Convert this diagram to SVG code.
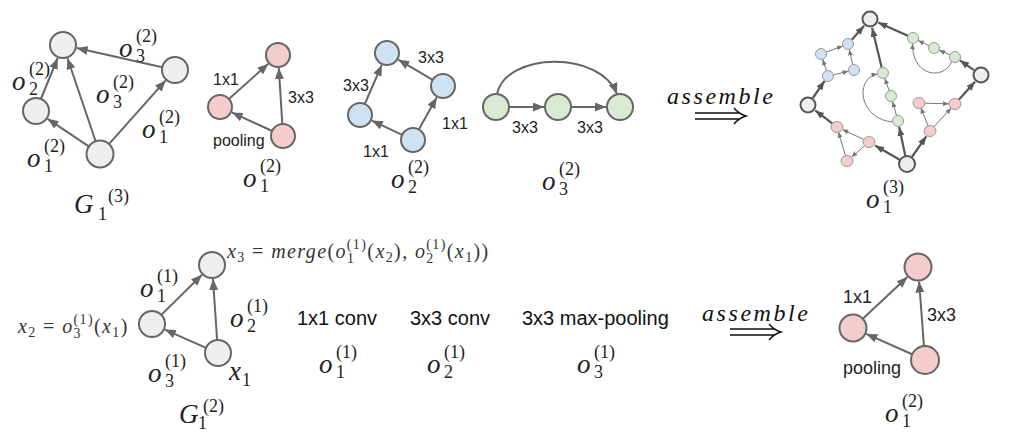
<svg xmlns="http://www.w3.org/2000/svg" width="1016" height="447" viewBox="0 0 1016 447">
<defs>
<style>
.e{stroke:#666;stroke-width:2;fill:none;marker-end:url(#ah)}
.et{stroke:#777;stroke-width:1;fill:none;marker-end:url(#as)}
.eb{stroke:#555;stroke-width:2.2;fill:none;marker-end:url(#ab)}
.ng{fill:#eeeeee;stroke:#666;stroke-width:2}
.np{fill:#f4cccc;stroke:#666;stroke-width:2}
.nb{fill:#cfe2f3;stroke:#666;stroke-width:2}
.nG{fill:#d9ead3;stroke:#666;stroke-width:2}
.sp{fill:#f4cccc;stroke:#999;stroke-width:1}
.sb{fill:#cfe2f3;stroke:#999;stroke-width:1}
.sG{fill:#d9ead3;stroke:#999;stroke-width:1}
.sg{fill:#eeeeee;stroke:#555;stroke-width:2}
.lbl{font-family:"Liberation Sans",Arial,sans-serif;font-size:16px;fill:#222}
.lbb{font-family:"Liberation Sans",Arial,sans-serif;font-size:18px;fill:#222}
.op{font-family:"Liberation Sans",Arial,sans-serif;font-size:20px;fill:#111}
.mi{font-family:"Liberation Serif","DejaVu Serif",serif;font-style:italic;font-size:27px;fill:#222}
.sc{font-family:"Liberation Serif","DejaVu Serif",serif;font-size:18px;fill:#222}
.an{font-family:"Liberation Serif","DejaVu Serif",serif;font-size:20px;letter-spacing:1.4px;fill:#333}
.an .i{font-style:italic}
.as{font-family:"Liberation Serif","DejaVu Serif",serif;font-style:italic;font-size:24px;fill:#111}
.dar{stroke:#111;stroke-width:1.4;fill:none}
</style>
<marker id="ah" markerUnits="userSpaceOnUse" markerWidth="11" markerHeight="9" refX="11" refY="4.5" orient="auto"><path d="M0,0 L11,4.5 L0,9 z" fill="#666"/></marker>
<marker id="as" markerUnits="userSpaceOnUse" markerWidth="6" markerHeight="5" refX="6" refY="2.5" orient="auto"><path d="M0,0 L6,2.5 L0,5 z" fill="#777"/></marker>
<marker id="ab" markerUnits="userSpaceOnUse" markerWidth="9" markerHeight="7" refX="9" refY="3.5" orient="auto"><path d="M0,0 L9,3.5 L0,7 z" fill="#555"/></marker>
</defs>
<rect width="1016" height="447" fill="#fff"/>

<g id="connectors">
<line class="e" x1="40.9" y1="99" x2="57.7" y2="58"/>
<line class="e" x1="89.2" y1="146.7" x2="47.6" y2="118.8"/>
<line class="e" x1="95.8" y1="141.7" x2="67.5" y2="58.3"/>
<line class="e" x1="108.7" y1="144.3" x2="165.7" y2="80.4"/>
<line class="e" x1="162.3" y1="67.2" x2="76.7" y2="48.1"/>
<line class="e" x1="228.9" y1="99" x2="268.3" y2="63.7"/>
<line class="e" x1="272.1" y1="131" x2="231.8" y2="112.4"/>
<line class="e" x1="282.3" y1="124" x2="278.8" y2="68"/>
<line class="e" x1="364.8" y1="104" x2="381.8" y2="64.9"/>
<line class="e" x1="402.2" y1="134.9" x2="371.8" y2="120.6"/>
<line class="e" x1="418.8" y1="129.5" x2="436.7" y2="97.4"/>
<line class="e" x1="432.7" y1="79.9" x2="398.2" y2="59.6"/>
<line class="e" x1="509" y1="107" x2="544" y2="107"/>
<line class="e" x1="571" y1="107" x2="606" y2="107"/>
<path class="e" d="M497,94 C506,52 600,50 617,94"/>
<line class="eb" x1="812.8" y1="98" x2="824.6" y2="81"/>
<line class="eb" x1="851.6" y1="39.9" x2="864.1" y2="25.8"/>
<line class="eb" x1="905.3" y1="155.7" x2="899.2" y2="126.9"/>
<line class="eb" x1="881.8" y1="68.1" x2="872.1" y2="27.8"/>
<line class="eb" x1="974" y1="70.2" x2="959.9" y2="60.4"/>
<line class="eb" x1="908.4" y1="36" x2="878.2" y2="22.6"/>
<line class="eb" x1="899.6" y1="159.7" x2="875.1" y2="145.5"/>
<line class="eb" x1="832.2" y1="123.4" x2="815.2" y2="110.4"/>
<line class="eb" x1="911.9" y1="157" x2="926.3" y2="136.3"/>
<line class="eb" x1="959" y1="99.5" x2="975" y2="81.7"/>
<line class="et" x1="826.5" y1="71.2" x2="822.7" y2="59.2"/>
<line class="et" x1="832.9" y1="74.9" x2="848.6" y2="71.2"/>
<line class="et" x1="825.7" y1="52.3" x2="842.8" y2="45.9"/>
<line class="et" x1="852.9" y1="65.1" x2="849.2" y2="49.4"/>
<line class="et" x1="896.7" y1="116.2" x2="892.5" y2="101.3"/>
<line class="et" x1="889.4" y1="91.3" x2="884.8" y2="78.2"/>
<path class="et" d="M892,122 C858,118 855,78 877.5,74"/>
<line class="et" x1="950.4" y1="55" x2="939.1" y2="50.2"/>
<line class="et" x1="929.5" y1="45.9" x2="918" y2="40.4"/>
<path class="et" d="M952,61 C945,80 912,78 912.5,43.5"/>
<line class="et" x1="863.6" y1="139.4" x2="842.4" y2="129.5"/>
<line class="et" x1="864.5" y1="145.9" x2="851.5" y2="157.1"/>
<line class="et" x1="845.6" y1="156.2" x2="838.4" y2="131.8"/>
<line class="et" x1="928.2" y1="126.3" x2="920.8" y2="107.7"/>
<line class="et" x1="933.7" y1="127" x2="951.3" y2="108"/>
<line class="et" x1="925" y1="103.2" x2="949" y2="103.8"/>
<line class="e" x1="161.3" y1="314.9" x2="202" y2="274.8"/>
<line class="e" x1="206.1" y1="347.8" x2="164.8" y2="329.6"/>
<line class="e" x1="217.1" y1="340" x2="213" y2="279"/>
<line class="e" x1="862.8" y1="318.8" x2="907.4" y2="276.9"/>
<line class="e" x1="912.7" y1="354.5" x2="866.3" y2="333.9"/>
<line class="e" x1="924" y1="346.5" x2="919.1" y2="281.5"/>
</g>

<g id="G13">
<circle class="ng" cx="63" cy="45" r="13"/>
<circle class="ng" cx="36" cy="111" r="13"/>
<circle class="ng" cx="100" cy="154" r="13.5"/>
<circle class="ng" cx="175" cy="70" r="13"/>
<text class="mi" x="119" y="57">o</text><text class="sc" x="136" y="42">(2)</text><text class="sc" x="136" y="62">3</text>
<text class="mi" x="12" y="90">o</text><text class="sc" x="29" y="75">(2)</text><text class="sc" x="29" y="95">2</text>
<text class="mi" x="96" y="103">o</text><text class="sc" x="113" y="88">(2)</text><text class="sc" x="113" y="108">3</text>
<text class="mi" x="142" y="138">o</text><text class="sc" x="159" y="123">(2)</text><text class="sc" x="159" y="143">1</text>
<text class="mi" x="27" y="167">o</text><text class="sc" x="44" y="152">(2)</text><text class="sc" x="44" y="172">1</text>
<text class="mi" x="74" y="213">G</text><text class="sc" x="108" y="202">(3)</text><text class="sc" x="98" y="220">1</text>
</g>

<g id="pink-o1">
<circle class="np" cx="278" cy="55" r="12"/>
<circle class="np" cx="220" cy="107" r="12"/>
<circle class="np" cx="283" cy="136" r="12"/>
<text class="lbl" x="213" y="85">1x1</text>
<text class="lbl" x="288" y="103">3x3</text>
<text class="lbl" x="213" y="146">pooling</text>
<text class="mi" x="243" y="187">o</text><text class="sc" x="260" y="172">(2)</text><text class="sc" x="260" y="192">1</text>
</g>

<g id="blue-o2">
<circle class="nb" cx="387" cy="53" r="12"/>
<circle class="nb" cx="360" cy="115" r="12"/>
<circle class="nb" cx="443" cy="86" r="12"/>
<circle class="nb" cx="413" cy="140" r="12"/>
<text class="lbl" x="418" y="63">3x3</text>
<text class="lbl" x="343" y="91">3x3</text>
<text class="lbl" x="442" y="129">1x1</text>
<text class="lbl" x="363" y="157">1x1</text>
<text class="mi" x="391" y="188">o</text><text class="sc" x="408" y="173">(2)</text><text class="sc" x="408" y="193">2</text>
</g>

<g id="green-o3">
<circle class="nG" cx="496" cy="107" r="13"/>
<circle class="nG" cx="558" cy="107" r="13"/>
<circle class="nG" cx="620" cy="107" r="13"/>
<text class="lbl" x="512" y="133">3x3</text>
<text class="lbl" x="577" y="133">3x3</text>
<text class="mi" x="542" y="190">o</text><text class="sc" x="559" y="175">(2)</text><text class="sc" x="559" y="195">3</text>
</g>

<g id="assemble-top">
<text class="as" x="667" y="104" textLength="106" lengthAdjust="spacing">assemble</text>
<path class="dar" d="M695,113 L740,113 M695,119 L740,119 M734,108 Q739,114 746,116 Q739,118 734,124"/>
</g>

<g id="assembled-o13">
<circle class="sg" cx="870" cy="19" r="7.5"/>
<circle class="sg" cx="808" cy="105" r="7.5"/>
<circle class="sg" cx="981" cy="75" r="7.5"/>
<circle class="sg" cx="907" cy="164" r="8"/>
<circle class="sb" cx="828" cy="76" r="5.5"/>
<circle class="sb" cx="821" cy="54" r="5.5"/>
<circle class="sb" cx="854" cy="70" r="5.5"/>
<circle class="sb" cx="848" cy="44" r="5.5"/>
<circle class="sG" cx="898" cy="121" r="5.5"/>
<circle class="sG" cx="891" cy="96" r="5.5"/>
<circle class="sG" cx="883" cy="73" r="5.5"/>
<circle class="sG" cx="955" cy="57" r="5.5"/>
<circle class="sG" cx="934" cy="48" r="5.5"/>
<circle class="sG" cx="913" cy="38" r="5.5"/>
<ellipse class="sp" cx="869" cy="142" rx="6" ry="5.5"/>
<ellipse class="sp" cx="847" cy="161" rx="6" ry="5.5"/>
<ellipse class="sp" cx="837" cy="127" rx="6" ry="5.5"/>
<ellipse class="sp" cx="930" cy="131" rx="6" ry="5.5"/>
<ellipse class="sp" cx="919" cy="103" rx="6" ry="5.5"/>
<ellipse class="sp" cx="955" cy="104" rx="6" ry="5.5"/>
<text class="mi" x="866" y="208">o</text><text class="sc" x="883" y="193">(3)</text><text class="sc" x="883" y="213">1</text>
</g>

<g id="G12">
<circle class="ng" cx="212" cy="265" r="13"/>
<circle class="ng" cx="152" cy="324" r="13"/>
<circle class="ng" cx="218" cy="353" r="13"/>
<text class="mi" x="140" y="297">o</text><text class="sc" x="157" y="282">(1)</text><text class="sc" x="157" y="302">1</text>
<text class="mi" x="230" y="327">o</text><text class="sc" x="247" y="312">(1)</text><text class="sc" x="247" y="332">2</text>
<text class="mi" x="148" y="382">o</text><text class="sc" x="165" y="367">(1)</text><text class="sc" x="165" y="387">3</text>
<text class="mi" x="229" y="380">x</text><text class="sc" x="242" y="386">1</text>
<text class="mi" x="179" y="423">G</text><text class="sc" x="203" y="412">(2)</text><text class="sc" x="198" y="429">1</text>
<text class="an" x="18" y="333"><tspan class="i">x</tspan><tspan font-size="14" dy="4">2</tspan><tspan dy="-4"> = </tspan><tspan class="i">o</tspan><tspan font-size="14" dy="5">3</tspan><tspan font-size="14" dx="-8.5" dy="-14">(1)</tspan><tspan dy="9">(</tspan><tspan class="i">x</tspan><tspan font-size="14" dy="4">1</tspan><tspan dy="-4">)</tspan></text>
<text class="an" x="227" y="258"><tspan class="i">x</tspan><tspan font-size="14" dy="4">3</tspan><tspan dy="-4"> = </tspan><tspan class="i">merge</tspan>(<tspan class="i">o</tspan><tspan font-size="14" dy="5">1</tspan><tspan font-size="14" dx="-8.5" dy="-14">(1)</tspan><tspan dy="9">(</tspan><tspan class="i">x</tspan><tspan font-size="14" dy="4">2</tspan><tspan dy="-4">), </tspan><tspan class="i">o</tspan><tspan font-size="14" dy="5">2</tspan><tspan font-size="14" dx="-8.5" dy="-14">(1)</tspan><tspan dy="9">(</tspan><tspan class="i">x</tspan><tspan font-size="14" dy="4">1</tspan><tspan dy="-4">))</tspan></text>
</g>

<g id="ops">
<text class="op" x="297" y="325">1x1 conv</text>
<text class="op" x="410" y="325">3x3 conv</text>
<text class="op" x="522" y="325">3x3 max-pooling</text>
<text class="mi" x="319" y="373">o</text><text class="sc" x="336" y="358">(1)</text><text class="sc" x="336" y="378">1</text>
<text class="mi" x="427" y="373">o</text><text class="sc" x="444" y="358">(1)</text><text class="sc" x="444" y="378">2</text>
<text class="mi" x="577" y="373">o</text><text class="sc" x="594" y="358">(1)</text><text class="sc" x="594" y="378">3</text>
</g>

<g id="assemble-bottom">
<text class="as" x="702" y="321" textLength="106" lengthAdjust="spacing">assemble</text>
<path class="dar" d="M730,329 L775,329 M730,335 L775,335 M769,324 Q774,330 781,332 Q774,334 769,340"/>
</g>

<g id="pink-o1-bottom">
<circle class="np" cx="918" cy="267" r="13.5"/>
<circle class="np" cx="853" cy="328" r="13.5"/>
<circle class="np" cx="925" cy="360" r="14"/>
<text class="lbb" x="843" y="303">1x1</text>
<text class="lbb" x="927" y="321">3x3</text>
<text class="lbb" x="843" y="374">pooling</text>
<text class="mi" x="885" y="422">o</text><text class="sc" x="902" y="407">(2)</text><text class="sc" x="902" y="427">1</text>
</g>
</svg>
